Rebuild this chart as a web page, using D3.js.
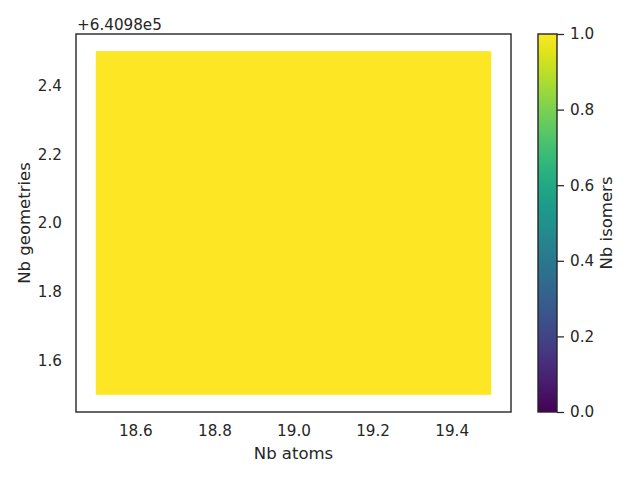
<!DOCTYPE html>
<html><head><meta charset="utf-8">
<script src="https://cdn.jsdelivr.net/npm/d3@7"></script>
<style>body{margin:0;background:#fff}svg{display:block}</style>
</head><body>
<script>
// Data
const xCats = [19];            // Nb atoms
const yCats = [640982];        // Nb geometries
const cellValues = [[1]];      // Nb isomers
const xTicks = [18.6, 18.8, 19.0, 19.2, 19.4];
const yTicks = [1.6, 1.8, 2.0, 2.2, 2.4];   // relative to offset
const yOffset = 640980;
const cbTicks = [0.0, 0.2, 0.4, 0.6, 0.8, 1.0];

const W = 640, H = 480;
const txt = "#262626", font = "DejaVu Sans, sans-serif", fs = 15.2, lfs = 16.5;
const svg = d3.select("body").append("svg").attr("width", W).attr("height", H)
  .style("font-family", font);

const ax = {l: 76, r: 511, t: 34, b: 412};
const x = d3.scaleLinear().domain([18.45, 19.55]).range([ax.l, ax.r]);
const y = d3.scaleLinear().domain([yOffset + 1.45, yOffset + 2.55]).range([ax.b, ax.t]);
const color = d3.scaleSequential(d3.interpolateViridis).domain([0, 1]);

// cells
yCats.forEach((yv, i) => xCats.forEach((xv, j) => {
  svg.append("rect")
    .attr("x", x(xv - 0.5)).attr("y", y(yv + 0.5))
    .attr("width", x(xv + 0.5) - x(xv - 0.5))
    .attr("height", y(yv - 0.5) - y(yv + 0.5))
    .attr("fill", color(cellValues[i][j]));
}));

// frame
svg.append("rect").attr("x", ax.l).attr("y", ax.t).attr("width", ax.r - ax.l).attr("height", ax.b - ax.t)
  .attr("fill", "none").attr("stroke", txt).attr("stroke-width", 1.4);

// x axis
const xa = svg.append("g").attr("transform", `translate(0,${ax.b})`)
  .call(d3.axisBottom(x).tickValues(xTicks).tickSize(0).tickPadding(13).tickFormat(d3.format(".1f")));
xa.select(".domain").remove();
xa.selectAll("text").attr("fill", txt).style("font-size", fs + "px").style("font-family", font);

// y axis
const ya = svg.append("g").attr("transform", `translate(${ax.l},0)`)
  .call(d3.axisLeft(y).tickValues(yTicks.map(v => v + yOffset)).tickSize(0).tickPadding(14)
    .tickFormat(v => d3.format(".1f")(v - yOffset)));
ya.select(".domain").remove();
ya.selectAll("text").attr("fill", txt).style("font-size", fs + "px").style("font-family", font);

// offset text
svg.append("text").attr("x", 77).attr("y", 30).attr("fill", txt).style("font-size", fs + "px")
  .text("+6.4098e5");

// axis labels
svg.append("text").attr("x", (ax.l + ax.r) / 2).attr("y", 459).attr("text-anchor", "middle")
  .attr("fill", txt).style("font-size", lfs + "px").text("Nb atoms");
svg.append("text").attr("transform", `translate(30,${(ax.t + ax.b) / 2}) rotate(-90)`)
  .attr("text-anchor", "middle").attr("fill", txt).style("font-size", lfs + "px").text("Nb geometries");

// colorbar
const cb = {l: 538, r: 557, t: 34, b: 412};
const cy = d3.scaleLinear().domain([0, 1]).range([cb.b, cb.t]);
const defs = svg.append("defs");
const grad = defs.append("linearGradient").attr("id", "vir").attr("x1", 0).attr("y1", 1).attr("x2", 0).attr("y2", 0);
d3.range(0, 1.0001, 0.05).forEach(t => grad.append("stop").attr("offset", t).attr("stop-color", d3.interpolateViridis(t)));
svg.append("rect").attr("x", cb.l).attr("y", cb.t).attr("width", cb.r - cb.l).attr("height", cb.b - cb.t)
  .attr("fill", "url(#vir)").attr("stroke", txt).attr("stroke-width", 1.4);
const ca = svg.append("g").attr("transform", `translate(${cb.r},0)`)
  .call(d3.axisRight(cy).tickValues(cbTicks).tickSize(7).tickPadding(6).tickFormat(d3.format(".1f")));
ca.select(".domain").remove();
ca.selectAll("line").attr("stroke", txt).attr("stroke-width", 1.25);
ca.selectAll("text").attr("fill", txt).style("font-size", fs + "px").style("font-family", font);
svg.append("text").attr("transform", `translate(612,${(cb.t + cb.b) / 2}) rotate(-90)`)
  .attr("text-anchor", "middle").attr("fill", txt).style("font-size", lfs + "px").text("Nb isomers");
</script>
</body></html>
